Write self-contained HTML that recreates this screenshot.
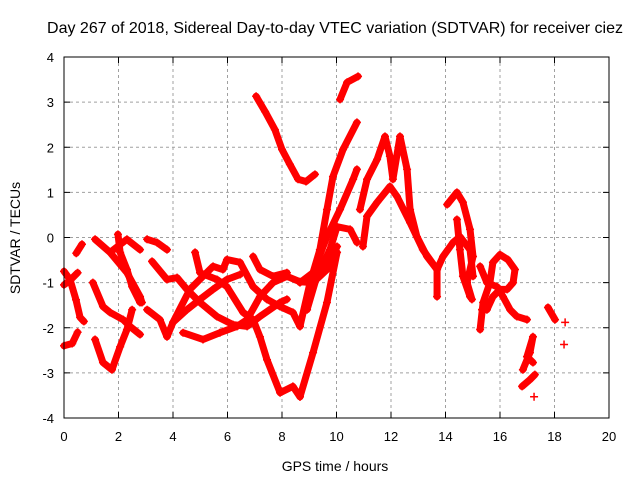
<!DOCTYPE html>
<html><head><meta charset="utf-8"><style>
html,body{margin:0;padding:0;background:#fff;}
svg{display:block;font-family:"Liberation Sans",sans-serif;}
</style></head><body>
<svg id="chart" width="640" height="480" viewBox="0 0 640 480">
<text x="335" y="33" font-size="16" text-anchor="middle">Day 267 of 2018, Sidereal Day-to-day VTEC variation (SDTVAR) for receiver ciez</text>
<text x="335" y="471" font-size="14" text-anchor="middle">GPS time / hours</text>
<text transform="translate(20,238) rotate(-90)" font-size="14" text-anchor="middle">SDTVAR / TECUs</text>
<g id="grid"></g>
<g id="marks"></g>
<rect x="64" y="57" width="545" height="361" fill="none" stroke="#000" stroke-width="1"/>
</svg>
<script>
const xTicks=[0,2,4,6,8,10,12,14,16,18,20];
const yTicks=[-4,-3,-2,-1,0,1,2,3,4];
const sA=[[0,-0.75],[0.22,-0.93],[0.44,-1.38],[0.59,-1.77],[0.73,-1.86]];
const sB=[[0,-2.4],[0.3,-2.35],[0.5,-2.1]];
const sC=[[0,-1.05],[0.22,-0.95],[0.5,-0.78]];
const sD=[[0.45,-0.35],[0.66,-0.15]];
const sT1=[[1.14,-0.04],[1.69,-0.33],[2.31,-0.78],[2.79,-1.31],[2.86,-1.44]];
const sT2=[[1.06,-1.0],[1.43,-1.53],[1.69,-1.66],[2.17,-1.82],[2.42,-1.97],[2.79,-2.15]];
const sT3=[[1.14,-2.26],[1.43,-2.77],[1.76,-2.93],[2.06,-2.42],[2.31,-2.04],[2.5,-1.6]];
const sT4=[[1.98,0.07],[2.06,-0.33],[2.31,-0.71],[2.5,-1.09],[2.79,-1.44]];
const sT5=[[1.69,-0.33],[2.31,-0.04],[2.79,-0.27]];
const sT6=[[3.05,-0.04],[3.41,-0.11],[3.78,-0.27]];
const sT7=[[3.23,-0.53],[3.78,-0.93],[4.15,-0.89],[4.51,-1.15],[4.99,-1.44],[5.61,-1.75],[6.2,-1.93],[6.72,-1.97],[7.19,-1.75],[7.93,-1.44],[8.18,-1.37]];
const sT8=[[3.05,-1.6],[3.52,-1.82],[3.78,-2.2],[4.0,-1.88],[4.62,-1.15],[5.1,-0.86],[5.47,-0.64],[5.83,-0.71],[5.98,-0.49],[6.46,-0.55],[6.94,-1.09],[7.45,-1.37],[7.93,-1.53],[8.4,-1.66],[8.66,-1.97]];
const sT9=[[4.37,-2.11],[5.1,-2.26],[5.72,-2.11],[6.35,-1.97],[6.72,-1.82],[7.19,-1.31],[7.67,-1.0],[8.18,-0.86],[8.66,-0.98],[9.14,-1.0],[9.65,-0.71],[10.02,-0.2]];
const sT10=[[4.81,-0.33],[4.99,-0.78],[5.61,-0.93],[5.98,-1.09],[6.57,-1.66],[6.94,-1.82],[7.19,-2.2],[7.45,-2.71],[7.93,-3.44],[8.4,-3.3],[8.66,-3.53]];
const sT11=[[4.0,-1.88],[4.51,-1.6],[4.99,-1.37],[5.47,-1.15],[5.98,-0.93],[6.46,-0.82]];
const sT12=[[6.94,-0.42],[7.19,-0.71],[7.67,-0.86],[8.18,-0.78]];
const sT13=[[8.66,-3.53],[9.14,-2.55],[9.65,-1.44],[10.02,-0.33]];
const sR1=[[7.05,3.13],[7.38,2.79],[7.74,2.39],[8.0,1.95],[8.29,1.62],[8.59,1.29],[8.88,1.24],[9.21,1.4]];
const sR2=[[10.13,3.06],[10.39,3.44],[10.79,3.57]];
const sR3=[[8.66,-1.97],[9.03,-1.0],[9.39,-0.27],[9.65,0.62],[9.87,1.35],[10.24,1.95],[10.75,2.55]];
const sR4=[[8.66,-1.0],[9.14,-0.78],[9.65,0.02],[10.13,0.62],[10.61,1.29],[10.75,1.51]];
const sR5=[[8.92,-1.6],[9.28,-0.86],[9.76,-0.27],[10.02,0.24],[10.5,0.18],[10.75,-0.11]];
const sR6=[[10.86,0.62],[11.12,1.29],[11.49,1.73],[11.78,2.24],[11.96,1.8],[12.07,1.29],[12.33,2.24],[12.59,1.51],[12.7,0.62],[12.95,0.02],[13.32,-0.42],[13.69,-0.71],[13.91,-0.42],[14.28,-0.11],[14.53,0.02],[14.9,-0.27],[15.01,-0.86]];
const sR7=[[10.97,-0.2],[11.12,0.47],[11.49,0.78],[11.96,1.13],[12.22,0.91],[12.7,0.33],[13.17,-0.27],[13.69,-0.71],[13.69,-1.31]];
const sR8=[[14.06,0.73],[14.42,1.0],[14.64,0.78],[14.9,0.18],[15.01,-0.42],[14.79,-1.0],[14.97,-1.37]];
const sR9=[[14.42,0.4],[14.53,-0.27],[14.64,-0.86],[14.9,-1.31]];
const sR10=[[15.27,-2.04],[15.38,-1.44],[15.63,-1.0],[15.74,-0.55],[16.0,-0.38],[16.29,-0.49],[16.55,-0.71],[16.48,-1.0],[16.26,-1.15],[16.0,-1.15],[15.74,-1.31],[15.52,-1.6],[15.34,-1.6]];
const sR11=[[15.27,-0.64],[15.52,-1.0],[15.89,-1.09],[16.11,-1.31],[16.37,-1.6],[16.62,-1.75],[16.99,-1.82]];
const sR12=[[16.84,-2.93],[17.1,-2.55],[17.21,-2.2],[16.99,-2.64],[17.21,-2.77]];
const sR13=[[16.81,-3.3],[17.1,-3.15],[17.28,-3.04]];
const sR14=[[17.76,-1.55],[18.02,-1.82]];
const sPts=[[17.25,-3.53],[18.39,-1.88],[18.35,-2.37]];
const seriesList=[sA,sB,sC,sD,sT1,sT2,sT3,sT4,sT5,sT6,sT7,sT8,sT9,sT10,sT11,sT12,sT13,sR1,sR2,sR3,sR4,sR5,sR6,sR7,sR8,sR9,sR10,sR11,sR12,sR13,sR14];

const X0=64,X1=609,Y0=418,Y1=57;
function xs(v){return X0+(v-0)/(20-0)*(X1-X0);}
function ys(v){return Y0-(v+4)/8*(Y0-Y1);}
const NS="http://www.w3.org/2000/svg";
const grid=document.getElementById('grid');
const marks=document.getElementById('marks');
function mk(t,a,p){const e=document.createElementNS(NS,t);for(const k in a)e.setAttribute(k,a[k]);p.appendChild(e);return e;}
xTicks.forEach(v=>{
  const x=xs(v);
  if(v>0&&v<20){const l=mk('line',{x1:x,x2:x,y1:Y1,y2:Y0,stroke:'#a0a0a0','stroke-dasharray':'3,3'},grid);
  
  }
  mk('line',{x1:x,x2:x,y1:Y0,y2:Y0-6,stroke:'#000'},grid);
  mk('line',{x1:x,x2:x,y1:Y1,y2:Y1+6,stroke:'#000'},grid);
  const t=mk('text',{x:x,y:Y0+23,'font-size':'13','text-anchor':'middle'},grid);t.textContent=v;
  
  
});
yTicks.forEach(v=>{
  const y=ys(v);
  if(v>-4&&v<4){const l=mk('line',{x1:X0,x2:X1,y1:y,y2:y,stroke:'#a0a0a0','stroke-dasharray':'3,3'},grid);
  
  }
  mk('line',{x1:X0,x2:X0+6,y1:y,y2:y,stroke:'#000'},grid);
  mk('line',{x1:X1,x2:X1-6,y1:y,y2:y,stroke:'#000'},grid);
  const t=mk('text',{x:X0-10,y:y+5,'font-size':'13','text-anchor':'end'},grid);t.textContent=v;
  
  
});
function plus(x,y){
  const p=mk('path',{d:`M${x-4},${y}h8M${x},${y-4}v8`,stroke:'#f00','stroke-width':'1.5',fill:'none'},marks);
  
  
}
seriesList.forEach(s=>{
  const pl=mk('polyline',{points:s.map(p=>xs(p[0])+','+ys(p[1])).join(' '),fill:'none',stroke:'#f00','stroke-width':'7','stroke-linejoin':'round','stroke-linecap':'round'},marks);
  
  
  s.forEach(p=>plus(xs(p[0]),ys(p[1])));
});
sPts.forEach(p=>plus(xs(p[0]),ys(p[1])));
</script>
</body></html>
